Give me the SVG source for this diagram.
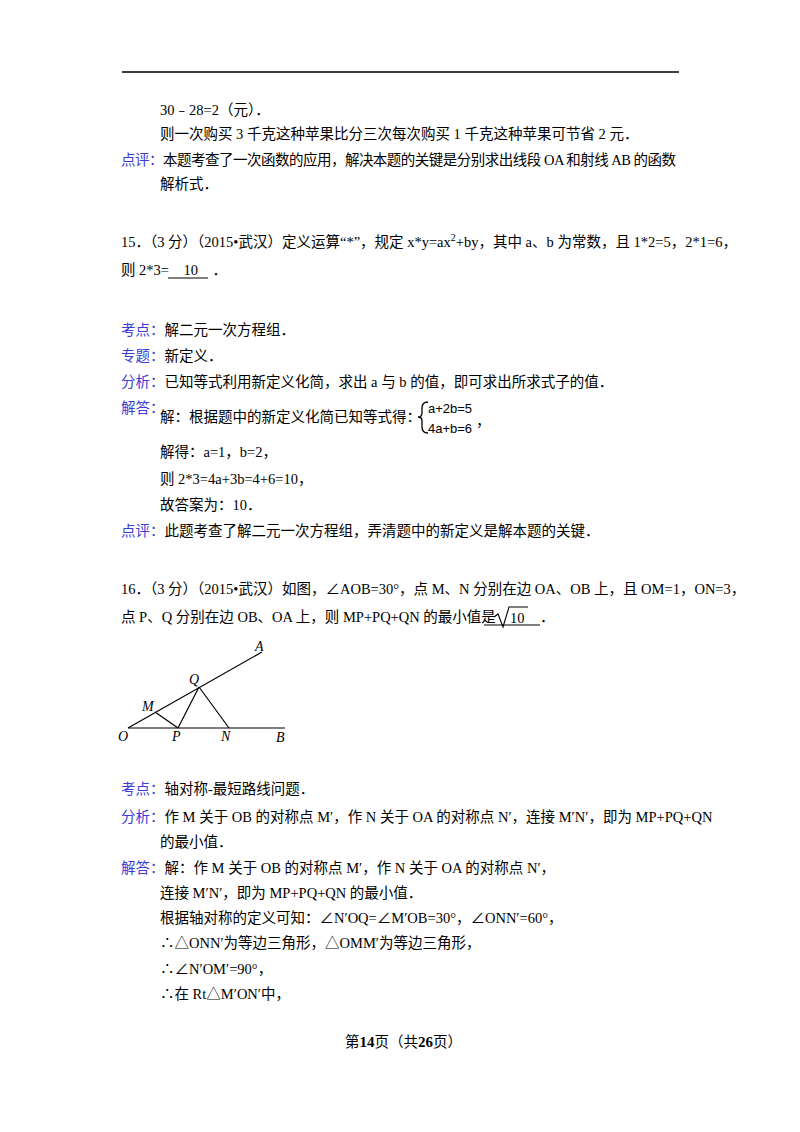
<svg xmlns="http://www.w3.org/2000/svg" width="800" height="1132" viewBox="0 0 800 1132">
<style>
text{font-family:"Liberation Serif","Noto Sans CJK SC",serif;font-size:14.5px;fill:#000}
.k{fill:#3b3bd6}
.it{font-style:italic;font-size:14px}
.g line{stroke:#000;stroke-width:1.2}
</style>
<rect width="800" height="1132" fill="#fff"/>
<line x1="122" y1="72" x2="679" y2="72" stroke="#000" stroke-width="1.5"/>
<text x="160" y="115">30﹣28=2（元）．</text>
<text x="160" y="139">则一次购买 3 千克这种苹果比分三次每次购买 1 千克这种苹果可节省 2 元．</text>
<text x="121" y="165" textLength="555"><tspan class="k">点评：</tspan>本题考查了一次函数的应用，解决本题的关键是分别求出线段 OA 和射线 AB 的函数</text>
<text x="160" y="189">解析式．</text>
<text x="121" y="247">15．（3 分）（2015•武汉）定义运算“*”，规定 x*y=ax<tspan dy="-6" font-size="10">2</tspan><tspan dy="6">+by，其中 a、b 为常数，且 1*2=5，2*1=6，</tspan></text>
<text x="121" y="275">则 2*3=<tspan>　10　</tspan>．</text>
<line x1="168" y1="278" x2="208" y2="278" stroke="#000" stroke-width="1"/>
<text x="121" y="335"><tspan class="k">考点：</tspan>解二元一次方程组．</text>
<text x="121" y="361"><tspan class="k">专题：</tspan>新定义．</text>
<text x="121" y="387"><tspan class="k">分析：</tspan>已知等式利用新定义化简，求出 a 与 b 的值，即可求出所求式子的值．</text>
<text x="121" y="413" class="k">解答：</text>
<text x="160" y="422">解：根据题中的新定义化简已知等式得：</text>
<path d="M428,402 Q422,402 422,408 L422,413 Q422,417 418,417 Q422,417 422,421 L422,427 Q422,433 428,433" fill="none" stroke="#000" stroke-width="1.3"/>
<text x="428" y="413" style="font-family:'Liberation Sans',sans-serif;font-size:13px">a+2b=5</text>
<text x="428" y="433" style="font-family:'Liberation Sans',sans-serif;font-size:13px">4a+b=6</text>
<text x="476" y="426">，</text>
<text x="160" y="457">解得：a=1，b=2，</text>
<text x="160" y="484">则 2*3=4a+3b=4+6=10，</text>
<text x="160" y="510">故答案为：10．</text>
<text x="121" y="536"><tspan class="k">点评：</tspan>此题考查了解二元一次方程组，弄清题中的新定义是解本题的关键．</text>
<text x="121" y="594">16．（3 分）（2015•武汉）如图，∠AOB=30°，点 M、N 分别在边 OA、OB 上，且 OM=1，ON=3，</text>
<text x="121" y="622">点 P、Q 分别在边 OB、OA 上，则 MP+PQ+QN 的最小值是</text>
<line x1="484" y1="625" x2="540" y2="625" stroke="#000" stroke-width="1"/>
<path d="M494,617 L498,614 L503,627 L509,607 L528,607" fill="none" stroke="#000" stroke-width="1.1"/>
<text x="510" y="623">10</text>
<text x="540" y="622">．</text>
<g id="figure" class="g">
<line x1="128" y1="728" x2="262" y2="652"/>
<line x1="128" y1="728" x2="285" y2="728"/>
<line x1="155" y1="712" x2="178" y2="728"/>
<line x1="178" y1="728" x2="199" y2="687"/>
<line x1="199" y1="687" x2="229" y2="728"/>
</g>
<text class="it" x="255" y="651">A</text>
<text class="it" x="189" y="684">Q</text>
<text class="it" x="142" y="711">M</text>
<text class="it" x="118" y="741">O</text>
<text class="it" x="172" y="741">P</text>
<text class="it" x="221" y="741">N</text>
<text class="it" x="276" y="742">B</text>
<text x="121" y="794"><tspan class="k">考点：</tspan>轴对称-最短路线问题．</text>
<text x="121" y="822"><tspan class="k">分析：</tspan>作 M 关于 OB 的对称点 M′，作 N 关于 OA 的对称点 N′，连接 M′N′，即为 MP+PQ+QN</text>
<text x="160" y="847">的最小值．</text>
<text x="121" y="873"><tspan class="k">解答：</tspan>解：作 M 关于 OB 的对称点 M′，作 N 关于 OA 的对称点 N′，</text>
<text x="160" y="898">连接 M′N′，即为 MP+PQ+QN 的最小值．</text>
<text x="160" y="923">根据轴对称的定义可知：∠N′OQ=∠M′OB=30°，∠ONN′=60°，</text>
<text x="160" y="948">∴△ONN′为等边三角形，△OMM′为等边三角形，</text>
<text x="160" y="974">∴∠N′OM′=90°，</text>
<text x="160" y="999">∴在 Rt△M′ON′中，</text>
<text x="345" y="1047" font-size="13">第<tspan font-weight="bold" font-size="15">14</tspan>页（共<tspan font-weight="bold" font-size="15">26</tspan>页）</text>
</svg>
